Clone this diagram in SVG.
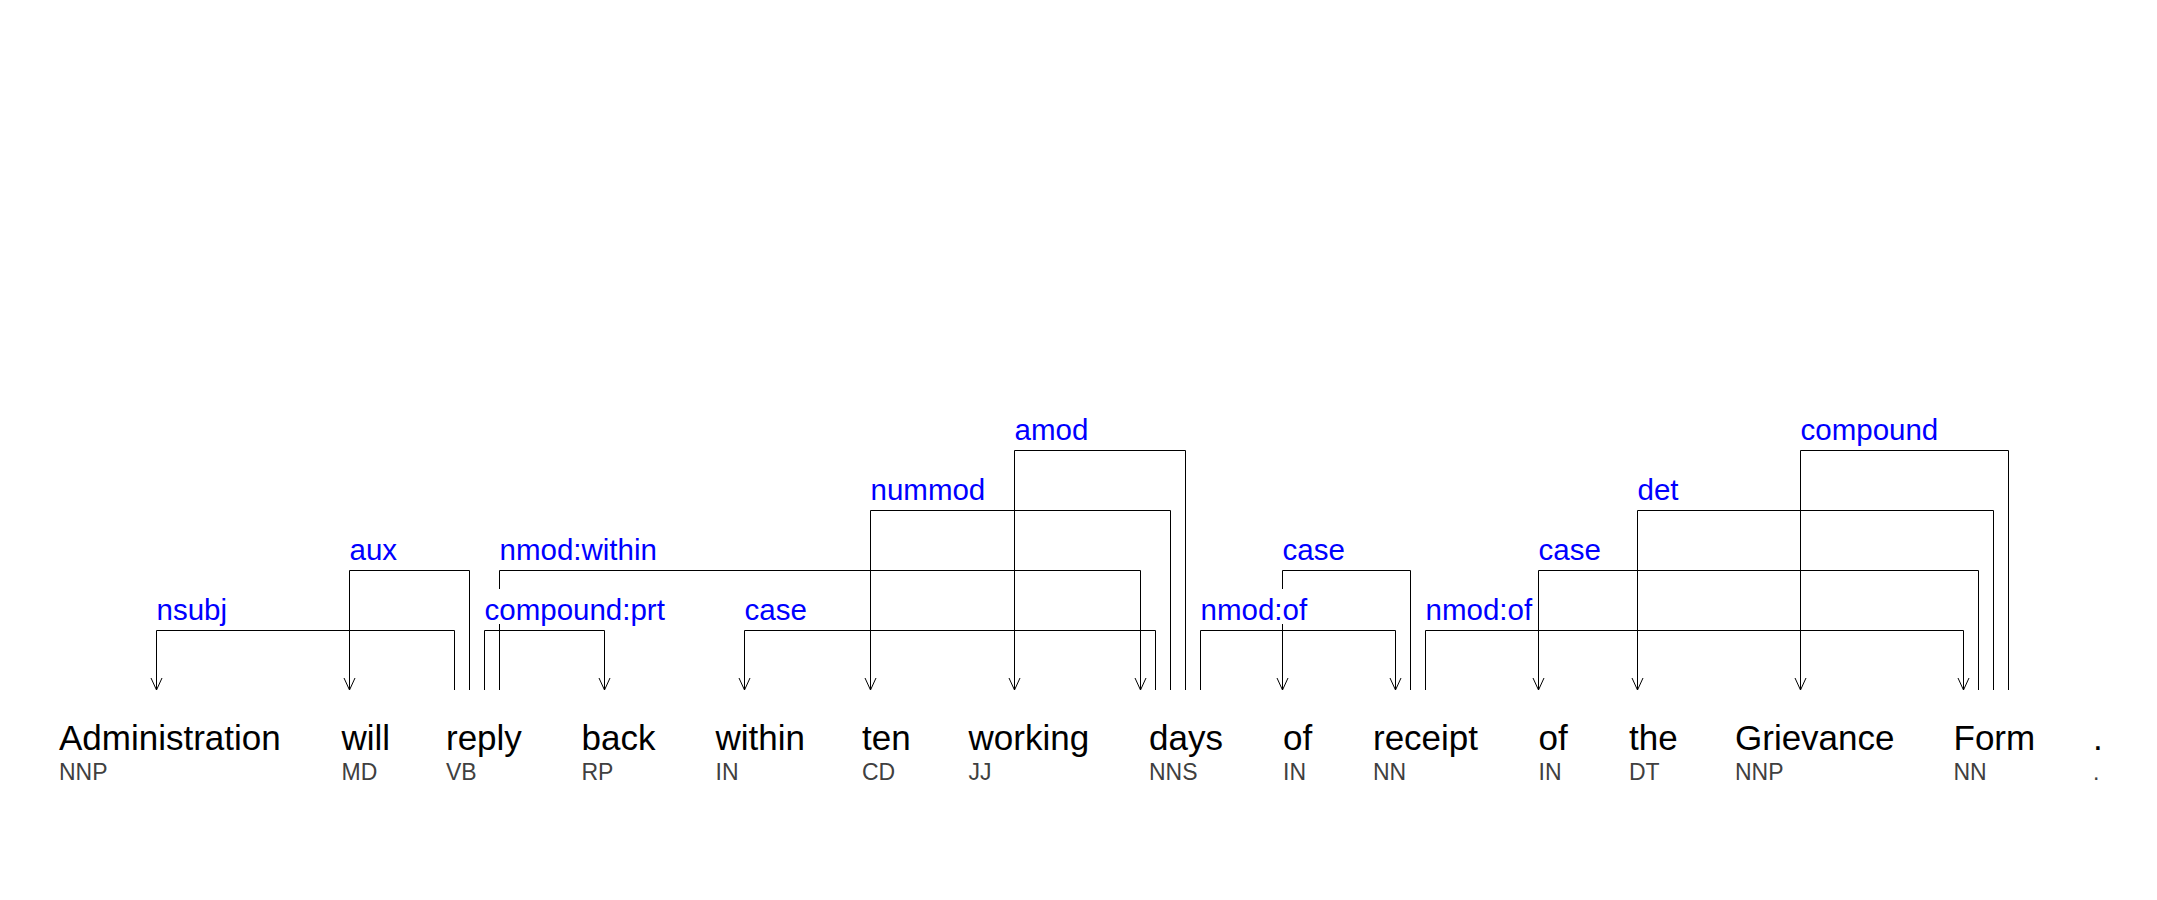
<svg xmlns="http://www.w3.org/2000/svg" width="2157" height="900" viewBox="0 0 2157 900">
<style>
.w{font-family:"Liberation Sans",Arial,sans-serif;font-size:35px;fill:#000}
.t{font-family:"Liberation Sans",Arial,sans-serif;font-size:23px;fill:#404040}
.l{font-family:"Liberation Sans",Arial,sans-serif;font-size:29.5px;fill:#0000ff}
.e{fill:none;stroke:#000;stroke-width:1}
.a{marker-end:url(#arr)}
.bg{fill:#fff}
</style>
<defs>
<marker id="arr" markerUnits="userSpaceOnUse" viewBox="-13 -7 14 14" refX="0" refY="0" markerWidth="14" markerHeight="14" orient="auto">
<path d="M-12,-5.5 L0,0 L-12,5.5" fill="none" stroke="#000" stroke-width="1"/>
</marker>
</defs>
<rect width="2157" height="900" fill="#fff"/>
<g id="connectors">
<path class="e" d="M454.5,690 V630.5 H156.5"/><path class="e a" d="M156.5,630.5 V690"/>
<path class="e" d="M469.5,690 V570.5 H349.5"/><path class="e a" d="M349.5,570.5 V690"/>
<path class="e" d="M484.5,690 V630.5 H604.5"/><path class="e a" d="M604.5,630.5 V690"/>
<path class="e" d="M499.5,690 V570.5 H1140.5"/><path class="e a" d="M1140.5,570.5 V690"/>
<path class="e" d="M1155.5,690 V630.5 H744.5"/><path class="e a" d="M744.5,630.5 V690"/>
<path class="e" d="M1170.5,690 V510.5 H870.5"/><path class="e a" d="M870.5,510.5 V690"/>
<path class="e" d="M1185.5,690 V450.5 H1014.5"/><path class="e a" d="M1014.5,450.5 V690"/>
<path class="e" d="M1200.5,690 V630.5 H1395.5"/><path class="e a" d="M1395.5,630.5 V690"/>
<path class="e" d="M1410.5,690 V570.5 H1282.5"/><path class="e a" d="M1282.5,570.5 V690"/>
<path class="e" d="M1425.5,690 V630.5 H1963.5"/><path class="e a" d="M1963.5,630.5 V690"/>
<path class="e" d="M1978.5,690 V570.5 H1538.5"/><path class="e a" d="M1538.5,570.5 V690"/>
<path class="e" d="M1993.5,690 V510.5 H1637.5"/><path class="e a" d="M1637.5,510.5 V690"/>
<path class="e" d="M2008.5,690 V450.5 H1800.5"/><path class="e a" d="M1800.5,450.5 V690"/>
</g>
<g id="labels">
<g id="lbl-nsubj"><rect class="bg" x="156" y="593" width="74" height="31"/><text class="l" x="156.5" y="620">nsubj</text></g>
<g id="lbl-aux"><rect class="bg" x="349" y="533" width="44" height="31"/><text class="l" x="349.5" y="560">aux</text></g>
<g id="lbl-compound-prt"><rect class="bg" x="484" y="589" width="184" height="35"/><text class="l" x="484.5" y="620">compound:prt</text></g>
<g id="lbl-nmod-within"><rect class="bg" x="499" y="529" width="160" height="35"/><text class="l" x="499.5" y="560">nmod:within</text></g>
<g id="lbl-case1"><rect class="bg" x="744" y="589" width="66" height="35"/><text class="l" x="744.5" y="620">case</text></g>
<g id="lbl-nummod"><rect class="bg" x="870" y="469" width="116" height="35"/><text class="l" x="870.5" y="500">nummod</text></g>
<g id="lbl-amod"><rect class="bg" x="1014" y="409" width="78" height="35"/><text class="l" x="1014.5" y="440">amod</text></g>
<g id="lbl-nmod-of1"><rect class="bg" x="1200" y="589" width="106" height="35"/><text class="l" x="1200.5" y="620">nmod:of</text></g>
<g id="lbl-case2"><rect class="bg" x="1282" y="529" width="66" height="35"/><text class="l" x="1282.5" y="560">case</text></g>
<g id="lbl-nmod-of2"><rect class="bg" x="1425" y="589" width="106" height="35"/><text class="l" x="1425.5" y="620">nmod:of</text></g>
<g id="lbl-case3"><rect class="bg" x="1538" y="529" width="66" height="35"/><text class="l" x="1538.5" y="560">case</text></g>
<g id="lbl-det"><rect class="bg" x="1637" y="469" width="50" height="35"/><text class="l" x="1637.5" y="500">det</text></g>
<g id="lbl-compound"><rect class="bg" x="1800" y="409" width="140" height="35"/><text class="l" x="1800.5" y="440">compound</text></g>
</g>
<g id="tok-Administration"><text class="w" x="59" y="750">Administration</text><text class="t" x="59" y="780">NNP</text></g>
<g id="tok-will"><text class="w" x="341.5" y="750">will</text><text class="t" x="341.5" y="780">MD</text></g>
<g id="tok-reply"><text class="w" x="446" y="750">reply</text><text class="t" x="446" y="780">VB</text></g>
<g id="tok-back"><text class="w" x="581.5" y="750">back</text><text class="t" x="581.5" y="780">RP</text></g>
<g id="tok-within"><text class="w" x="715.5" y="750">within</text><text class="t" x="715.5" y="780">IN</text></g>
<g id="tok-ten"><text class="w" x="862" y="750">ten</text><text class="t" x="862" y="780">CD</text></g>
<g id="tok-working"><text class="w" x="968.5" y="750">working</text><text class="t" x="968.5" y="780">JJ</text></g>
<g id="tok-days"><text class="w" x="1149" y="750">days</text><text class="t" x="1149" y="780">NNS</text></g>
<g id="tok-of1"><text class="w" x="1283" y="750">of</text><text class="t" x="1283" y="780">IN</text></g>
<g id="tok-receipt"><text class="w" x="1373" y="750">receipt</text><text class="t" x="1373" y="780">NN</text></g>
<g id="tok-of2"><text class="w" x="1538.5" y="750">of</text><text class="t" x="1538.5" y="780">IN</text></g>
<g id="tok-the"><text class="w" x="1629" y="750">the</text><text class="t" x="1629" y="780">DT</text></g>
<g id="tok-Grievance"><text class="w" x="1735" y="750">Grievance</text><text class="t" x="1735" y="780">NNP</text></g>
<g id="tok-Form"><text class="w" x="1953.5" y="750">Form</text><text class="t" x="1953.5" y="780">NN</text></g>
<g id="tok-period"><text class="w" x="2093" y="750">.</text><text class="t" x="2093" y="780">.</text></g>
</svg>
